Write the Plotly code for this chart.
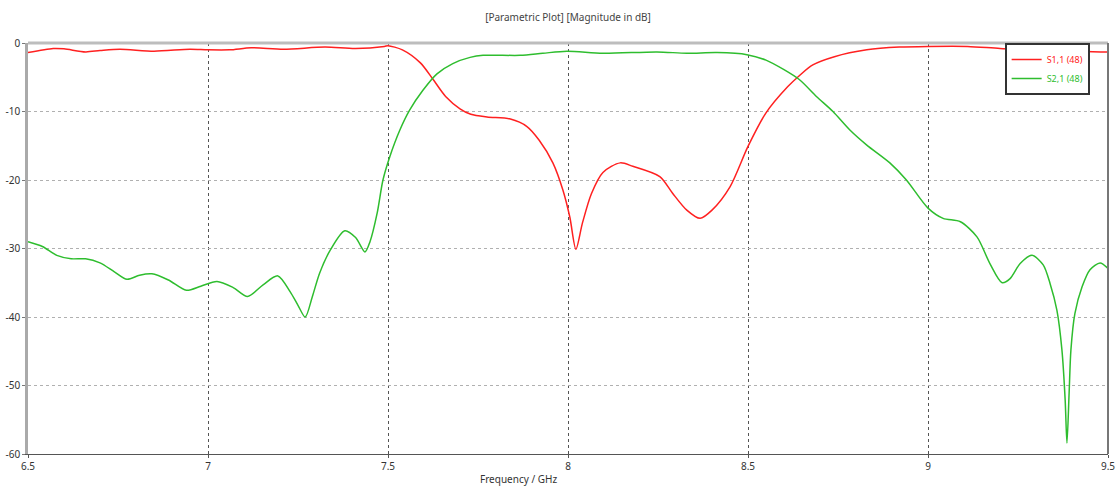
import plotly.graph_objects as go

# ---- data ----
s11_freq = [6.50, 6.57, 6.60, 6.66, 6.70, 6.755, 6.85, 6.95, 7.00, 7.06, 7.12, 7.21, 7.325, 7.41, 7.49,
            7.50, 7.54, 7.59, 7.625, 7.66, 7.70, 7.73, 7.775, 7.84, 7.886, 7.92, 7.958, 7.986, 8.005,
            8.022, 8.04, 8.065, 8.097, 8.145, 8.18, 8.255, 8.29, 8.33, 8.367, 8.40, 8.45, 8.50, 8.55,
            8.61, 8.644, 8.68, 8.74, 8.83, 8.92, 9.00, 9.11, 9.20, 9.30, 9.40, 9.48, 9.50]
s11_db = [-1.4, -0.8, -0.85, -1.3, -1.1, -0.9, -1.2, -0.9, -1.0, -1.0, -0.7, -0.9, -0.6, -0.8, -0.5,
          -0.4, -1.0, -2.9, -5.3, -7.8, -9.6, -10.4, -10.8, -11.1, -12.2, -14.2, -17.5, -21.5, -25.4,
          -30.1, -26.3, -22.0, -18.9, -17.5, -18.0, -19.5, -21.9, -24.4, -25.6, -24.4, -21.0, -15.1, -10.2,
          -6.4, -4.7, -3.2, -2.0, -1.0, -0.6, -0.5, -0.5, -0.8, -1.0, -1.2, -1.3, -1.3]

s21_freq = [6.50, 6.54, 6.58, 6.62, 6.66, 6.70, 6.74, 6.775, 6.81, 6.844, 6.89, 6.94, 6.98, 7.025,
            7.07, 7.11, 7.153, 7.194, 7.228, 7.25, 7.27, 7.29, 7.31, 7.34, 7.38, 7.41, 7.436, 7.45,
            7.47, 7.486, 7.505, 7.533, 7.56, 7.597, 7.636, 7.68, 7.728, 7.764, 7.867, 7.93, 7.997,
            8.097, 8.247, 8.33, 8.414, 8.497, 8.55, 8.60, 8.644, 8.69, 8.736, 8.783, 8.83, 8.894,
            8.94, 9.00, 9.042, 9.09, 9.136, 9.172, 9.206, 9.228, 9.256, 9.289, 9.32, 9.339, 9.358,
            9.372, 9.381, 9.386, 9.392, 9.397, 9.408, 9.428, 9.45, 9.478, 9.50]
s21_db = [-29.0, -29.7, -31.0, -31.5, -31.5, -32.1, -33.4, -34.5, -33.9, -33.7, -34.6, -36.1, -35.5, -34.8,
          -35.7, -37.0, -35.3, -34.0, -36.3, -38.3, -40.0, -37.0, -33.6, -30.2, -27.4, -28.4, -30.5, -29.0,
          -24.8, -20.0, -16.6, -12.7, -9.8, -6.9, -4.5, -3.0, -2.1, -1.8, -1.8, -1.5, -1.2,
          -1.5, -1.3, -1.5, -1.4, -1.7, -2.5, -3.9, -5.4, -7.8, -10.0, -12.7, -14.9, -17.5,
          -20.0, -24.1, -25.6, -26.1, -28.3, -32.2, -35.0, -34.4, -32.2, -31.0, -32.4, -35.1, -39.0,
          -44.8, -52.1, -58.4, -51.1, -44.8, -39.5, -35.6, -33.1, -32.1, -32.9]

x_tickvals = [6.5, 7, 7.5, 8, 8.5, 9, 9.5]
x_ticktext = ["6.5", "7", "7.5", "8", "8.5", "9", "9.5"]
y_tickvals = [0, -10, -20, -30, -40, -50, -60]
y_ticktext = ["0", "-10", "-20", "-30", "-40", "-50", "-60"]

title_text = "[Parametric Plot] [Magnitude in dB]"
x_label = "Frequency / GHz"
names = ["S1,1 (48)", "S2,1 (48)"]
colors = ["#ff2020", "#2ebd2e"]

FONT = "Noto Sans"

fig = go.Figure()
fig.add_trace(go.Scatter(x=s11_freq, y=s11_db, mode="lines",
                         name='<span style="color:%s">%s</span>' % (colors[0], names[0]),
                         line=dict(color=colors[0], width=1.5, shape="spline", smoothing=0.8)))
fig.add_trace(go.Scatter(x=s21_freq, y=s21_db, mode="lines",
                         name='<span style="color:%s">%s</span>' % (colors[1], names[1]),
                         line=dict(color=colors[1], width=1.5, shape="spline", smoothing=0.8)))

fig.update_layout(
    width=1116, height=486,
    margin=dict(l=28, r=8, t=43, b=32, autoexpand=False),
    paper_bgcolor="white", plot_bgcolor="white",
    font=dict(family=FONT, size=10, color="#333333"),
    title=dict(text=title_text, x=0.5, xref="paper", y=1 - 17 / 486, yref="container",
               yanchor="middle", xanchor="center",
               font=dict(family=FONT, size=10, color="#444444")),
    showlegend=True,
    legend=dict(x=0.983, y=1.0, xanchor="right", yanchor="top",
                bgcolor="white", bordercolor="#333333", borderwidth=2,
                font=dict(family=FONT, size=9), itemwidth=30,
                tracegroupgap=0),
    xaxis=dict(range=[6.5, 9.5], tickvals=x_tickvals, ticktext=x_ticktext,
               automargin=False,
               showgrid=True, gridcolor="#555555", griddash="dot", gridwidth=1,
               zeroline=False, showline=True, linecolor="#555555", linewidth=1,
               ticks="outside", ticklen=3, tickcolor="#555555",
               tickfont=dict(family=FONT, size=10, color="#333333")),
    yaxis=dict(range=[-60, 0], tickvals=y_tickvals, ticktext=y_ticktext,
               automargin=False,
               showgrid=True, gridcolor="#b0b0b0", griddash="dot", gridwidth=1,
               zeroline=False, showline=True, linecolor="#aaaaaa", linewidth=2.5,
               ticks="outside", ticklen=3, tickcolor="#777777",
               tickfont=dict(family=FONT, size=10, color="#333333")),
    shapes=[
        dict(type="line", xref="paper", yref="paper", x0=0, x1=1, y0=1, y1=1,
             line=dict(color="#bdbdbd", width=3), layer="above"),
        dict(type="line", xref="paper", yref="paper", x0=1, x1=1, y0=0, y1=1,
             line=dict(color="#777777", width=2), layer="above"),
    ],
    annotations=[
        dict(text=x_label, xref="paper", yref="paper", x=0.4546, y=-0.0608,
             xanchor="center", yanchor="middle", showarrow=False,
             font=dict(family=FONT, size=10, color="#333333")),
    ],
)

fig.write_html("out.html", config={"displayModeBar": False},
               post_script="document.body.style.margin='0';document.body.style.overflow='hidden';")
